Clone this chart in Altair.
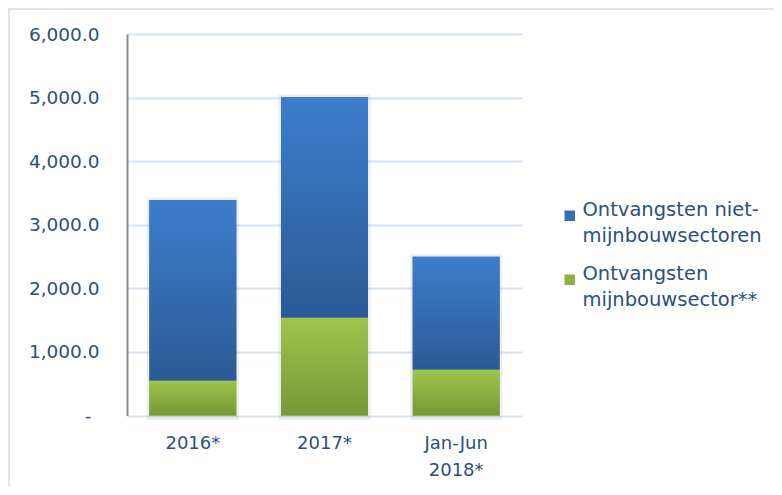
import altair as alt
import pandas as pd

categories = ["2016*", "2017*", "Jan-Jun 2018*"]
mining = [546, 1536, 718]          # Ontvangsten mijnbouwsector**
non_mining = [2845, 3475, 1777]    # Ontvangsten niet-mijnbouwsectoren
series_names = ["Ontvangsten niet-mijnbouwsectoren", "Ontvangsten mijnbouwsector**"]

rows = []
for c, m, n in zip(categories, mining, non_mining):
    rows.append({"cat": c, "series": series_names[1], "start": 0, "end": m})
    rows.append({"cat": c, "series": series_names[0], "start": m, "end": m + n})
df = pd.DataFrame(rows)
totals = pd.DataFrame({"cat": categories, "zero": [0] * 3,
                       "total": [m + n for m, n in zip(mining, non_mining)]})

TXT = "#2B4F81"
FONT = "DejaVu Sans"

blue_grad = {"gradient": "linear", "x1": 0, "y1": 0, "x2": 0, "y2": 1,
             "stops": [{"offset": 0, "color": "#3C7ECC"}, {"offset": 1, "color": "#2B5A96"}]}
green_grad = {"gradient": "linear", "x1": 0, "y1": 0, "x2": 0, "y2": 1,
              "stops": [{"offset": 0, "color": "#9EC54B"}, {"offset": 1, "color": "#779837"}]}

x_enc = alt.X("cat:N", sort=categories, title=None,
              scale=alt.Scale(paddingInner=0.34, paddingOuter=0.17),
              axis=alt.Axis(labelAngle=0, ticks=False, domain=False, grid=False,
                            labelExpr="split(datum.label, ' ')", labelLineHeight=27,
                            labelPadding=28, labelFontSize=18, labelFont=FONT,
                            labelColor=TXT, labelBaseline="middle"))
y_enc = alt.Y("start:Q", title=None,
              scale=alt.Scale(domain=[0, 6000], nice=False),
              axis=alt.Axis(values=[0, 1000, 2000, 3000, 4000, 5000, 6000],
                            labelExpr="datum.value == 0 ? '-' : format(datum.value, ',.1f')",
                            ticks=False, domain=True, domainColor="#8C8C8C", domainWidth=2,
                            gridColor="#D6E3F2", gridWidth=2,
                            labelPadding={"condition": {"test": "datum.value == 0", "value": 36}, "value": 28},
                            labelFontSize=18.5, labelFont=FONT, labelColor=TXT))

base = alt.Chart(df)

legend_layer = base.mark_bar().encode(
    x=x_enc, y=y_enc, y2="end:Q",
    color=alt.Color("series:N", sort=series_names,
                    scale=alt.Scale(domain=series_names, range=["#3470BA", "#8DB243"]),
                    legend=alt.Legend(title=None, orient="none", legendX=433, legendY=172,
                                      symbolType="square", symbolSize=110, symbolStrokeWidth=0,
                                      labelExpr="datum.label == 'Ontvangsten niet-mijnbouwsectoren' ? ['Ontvangsten niet-', 'mijnbouwsectoren'] : ['Ontvangsten', 'mijnbouwsector**']",
                                      labelFontSize=19.5, labelFont=FONT, labelColor=TXT,
                                      labelBaseline="alphabetic",
                                      labelOffset=3, rowPadding=17,
                                      labelLimit=300))
)

shadow = alt.Chart(totals).mark_bar(fill="transparent", stroke="#000000", strokeOpacity=0.07,
                                    strokeWidth=5, yOffset=2).encode(
    x=alt.X("cat:N", sort=categories), y="zero:Q", y2="total:Q")

blue_layer = base.transform_filter(alt.datum.series == series_names[0]).mark_bar(fill=blue_grad).encode(
    x=alt.X("cat:N", sort=categories), y="start:Q", y2="end:Q")
green_layer = base.transform_filter(alt.datum.series == series_names[1]).mark_bar(fill=green_grad).encode(
    x=alt.X("cat:N", sort=categories), y="start:Q", y2="end:Q")

border = alt.Chart(pd.DataFrame({"a": [0]})).mark_rect(fill="transparent", stroke="#D9E4F1", strokeWidth=2).encode(
    x=alt.value(-118), x2=alt.value(800), y=alt.value(-25), y2=alt.value(600))

chart = alt.layer(legend_layer, shadow, blue_layer, green_layer, border).properties(
    width=395, height=381.5,
    autosize=alt.AutoSizeParams(type="none"),
    padding={"left": 119, "top": 26, "right": 252, "bottom": 70},
).configure(background="white", style={"guide-label": {"lineHeight": 26}}).configure_view(strokeWidth=0)

chart.save("out.html", embed_options={"renderer": "svg", "actions": False})
